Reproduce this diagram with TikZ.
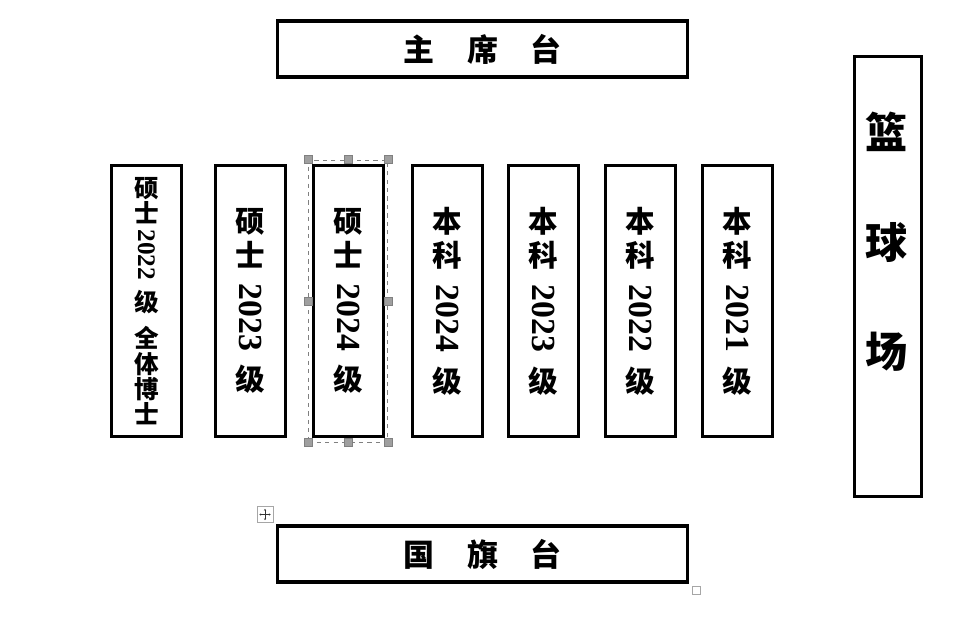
\documentclass[tikz,border=0pt]{standalone}
\usepackage{fontspec}
\usepackage{graphicx}
\usetikzlibrary{arrows.meta}
\newfontfamily\cjk{Noto Sans CJK SC}
\newfontfamily\num{Liberation Serif}
\newcommand\yr[2]{\rotatebox[origin=c]{-90}{\num\fontsize{#1}{#1}\selectfont\bfseries #2}}

\begin{document}
\begin{tikzpicture}[x=0.025cm,y=-0.025cm]
\tikzstyle{every node}+=[inner sep=0pt]
\tikzstyle{plate}=[draw,line width=2.2pt,minimum width=10.25cm,minimum height=1.4cm,font=\cjk\bfseries\fontsize{22}{26}\selectfont]
\tikzstyle{seat}=[draw,line width=2.2pt,minimum width=1.73cm,minimum height=6.77cm,align=center,font=\cjk\bfseries\fontsize{21}{24.5}\selectfont]
\tikzstyle{handle}=[draw=gray,fill=gray!75,minimum size=0.2cm]
\useasboundingbox (0,0) rectangle (980,621);
% stage and flag
\node [plate] (stage) at (482.5,49) {主\hspace{1.05em}席\hspace{1.05em}台};
\node [plate] (flag) at (482.5,554) {国\hspace{1.05em}旗\hspace{1.05em}台};
% court
\node [draw,line width=2.2pt,minimum width=1.68cm,minimum height=10.98cm] (court) at (888,276.5) {};
\node [align=center,font=\cjk\bfseries\fontsize{30}{78}\selectfont] (courttext) at (887,242) {篮\\球\\场};
% seats
\node [seat,font=\cjk\bfseries\fontsize{17.5}{18}\selectfont] (c1) at (146.5,301) {硕\\士\\[3pt]\yr{18}{2022}\\[6pt]级\\[8pt]全\\体\\博\\士};
\node [seat] (c2) at (250.5,301) {硕\\士\\[10pt]\yr{24}{2023}\\[9pt]级};
\node [seat] (c3) at (348.5,301) {硕\\士\\[10pt]\yr{24}{2024}\\[9pt]级};
\node [seat] (c4) at (447.5,301) {本\\科\\[10pt]\yr{24}{2024}\\[9pt]级};
\node [seat] (c5) at (543.5,301) {本\\科\\[10pt]\yr{24}{2023}\\[9pt]级};
\node [seat] (c6) at (640.5,301) {本\\科\\[10pt]\yr{24}{2022}\\[9pt]级};
\node [seat] (c7) at (737.5,301) {本\\科\\[10pt]\yr{24}{2021}\\[9pt]级};
% selection frame
\node [draw=gray,dashed,line width=0.5pt,minimum width=1.98cm,minimum height=7.05cm] (sel) at (348,301) {};
\foreach \a [count=\i] in {north west,north,north east,west,east,south west,south,south east}
  \node [handle] (h\i) at (sel.\a) {};
\node [draw=gray!70,fill=white,line width=0.6pt,minimum size=0.4cm] (move) at (265,514.5) {};
\draw [gray!40!black,line width=0.4pt,<->,>={Stealth[length=1.2pt,width=1.6pt]}] ([xshift=-0.14cm]move.center) -- ([xshift=0.14cm]move.center);
\draw [gray!40!black,line width=0.4pt,<->,>={Stealth[length=1.2pt,width=1.6pt]}] ([yshift=-0.14cm]move.center) -- ([yshift=0.14cm]move.center);
\node [draw=gray!70,line width=0.6pt,minimum size=0.22cm] (resize) at (696.5,590.5) {};
\end{tikzpicture}
\end{document}
